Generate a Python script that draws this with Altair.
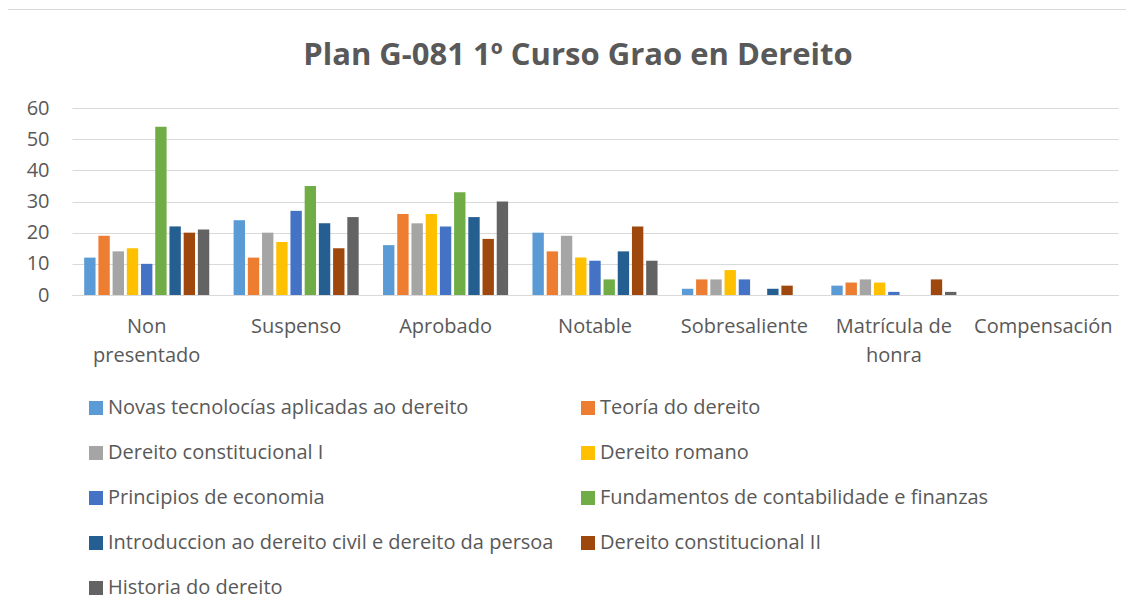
import altair as alt
import pandas as pd

categories = ["Non presentado", "Suspenso", "Aprobado", "Notable",
              "Sobresaliente", "Matrícula de honra", "Compensación"]
series = [
    "Novas tecnolocías aplicadas ao dereito",
    "Teoría do dereito",
    "Dereito constitucional I",
    "Dereito romano",
    "Principios de economia",
    "Fundamentos de contabilidade e finanzas",
    "Introduccion ao dereito civil e dereito da persoa",
    "Dereito constitucional II",
    "Historia do dereito",
]
novas = [12, 24, 16, 20, 2, 3, 0]
teoria = [19, 12, 26, 14, 5, 4, 0]
constitucional1 = [14, 20, 23, 19, 5, 5, 0]
romano = [15, 17, 26, 12, 8, 4, 0]
economia = [10, 27, 22, 11, 5, 1, 0]
contabilidade = [54, 35, 33, 5, 0, 0, 0]
civil = [22, 23, 25, 14, 2, 0, 0]
constitucional2 = [20, 15, 18, 22, 3, 5, 0]
historia = [21, 25, 30, 11, 0, 1, 0]
colors = ["#5B9BD5", "#ED7D31", "#A5A5A5", "#FFC000", "#4472C4",
          "#70AD47", "#255E91", "#9E480E", "#636363"]
y_ticks = [0, 10, 20, 30, 40, 50, 60]

values = [novas, teoria, constitucional1, romano, economia,
          contabilidade, civil, constitucional2, historia]
rows = []
for s, vals in zip(series, values):
    for c, v in zip(categories, vals):
        rows.append({"categoria": c, "materia": s, "valor": v})
df = pd.DataFrame(rows)

# Legend is filled column by column: order entries so that rows read like the original
legend_order = series[0::2] + series[1::2]
legend_colors = [colors[series.index(s)] for s in legend_order]

FONT = "Open Sans"
TXT = "#595959"
W, H = 1046, 187
PL, PT = 64, 100

label_expr = ("datum.label == 'Non presentado' ? ['Non', 'presentado'] : "
              "datum.label == 'Matrícula de honra' ? ['Matrícula de', 'honra'] : datum.label")

bars = alt.Chart(df).mark_bar().encode(
    x=alt.X("categoria:N", sort=categories, title=None,
            scale=alt.Scale(paddingInner=0.163, paddingOuter=0.0815),
            axis=alt.Axis(labelAngle=0, labelExpr=label_expr, labelFont=FONT,
                          labelFontSize=20, labelColor=TXT, labelLineHeight=29,
                          labelPadding=21, ticks=False, domainColor="#d9d9d9",
                          domainWidth=1, labelLimit=300)),
    xOffset=alt.XOffset("materia:N", sort=series,
                        scale=alt.Scale(paddingInner=0.2, paddingOuter=0)),
    y=alt.Y("valor:Q", title=None,
            scale=alt.Scale(domain=[0, 60], nice=False),
            axis=alt.Axis(values=y_ticks, labelFont=FONT, labelFontSize=20,
                          labelColor=TXT, labelPadding=23, ticks=False,
                          domain=False, gridColor="#d9d9d9", gridWidth=1)),
    color=alt.Color("materia:N", sort=legend_order,
                    scale=alt.Scale(domain=legend_order, range=legend_colors),
                    legend=alt.Legend(title=None, orient="none", legendX=14,
                                      legendY=290, columns=2, symbolType="square",
                                      symbolSize=196, symbolStrokeWidth=0,
                                      labelFont=FONT, labelFontSize=20,
                                      labelColor=TXT, labelOffset=2,
                                      labelLimit=700, rowPadding=25,
                                      columnPadding=24, padding=0)),
)

border = alt.Chart(pd.DataFrame({"k": [0]})).mark_rect(
    fill=None, stroke="#d9d9d9", strokeWidth=1
).encode(
    x=alt.value(7.5 - 8 - PL), x2=alt.value(3000),
    y=alt.value(9.5 - 8 - PT), y2=alt.value(3000),
)

chart = alt.layer(border, bars).properties(
    width=W, height=H,
    autosize=alt.AutoSizeParams(type="none"),
    padding={"left": PL, "top": PT, "right": 8, "bottom": 308},
    title=alt.TitleParams("Plan G-081 1º Curso Grao en Dereito", font=FONT,
                          fontSize=31, fontWeight="bold", color=TXT,
                          anchor="middle", dx=-17, offset=-63),
    background="white",
).configure_view(stroke=None)

chart.save("out.html", embed_options={"renderer": "svg", "actions": False})
